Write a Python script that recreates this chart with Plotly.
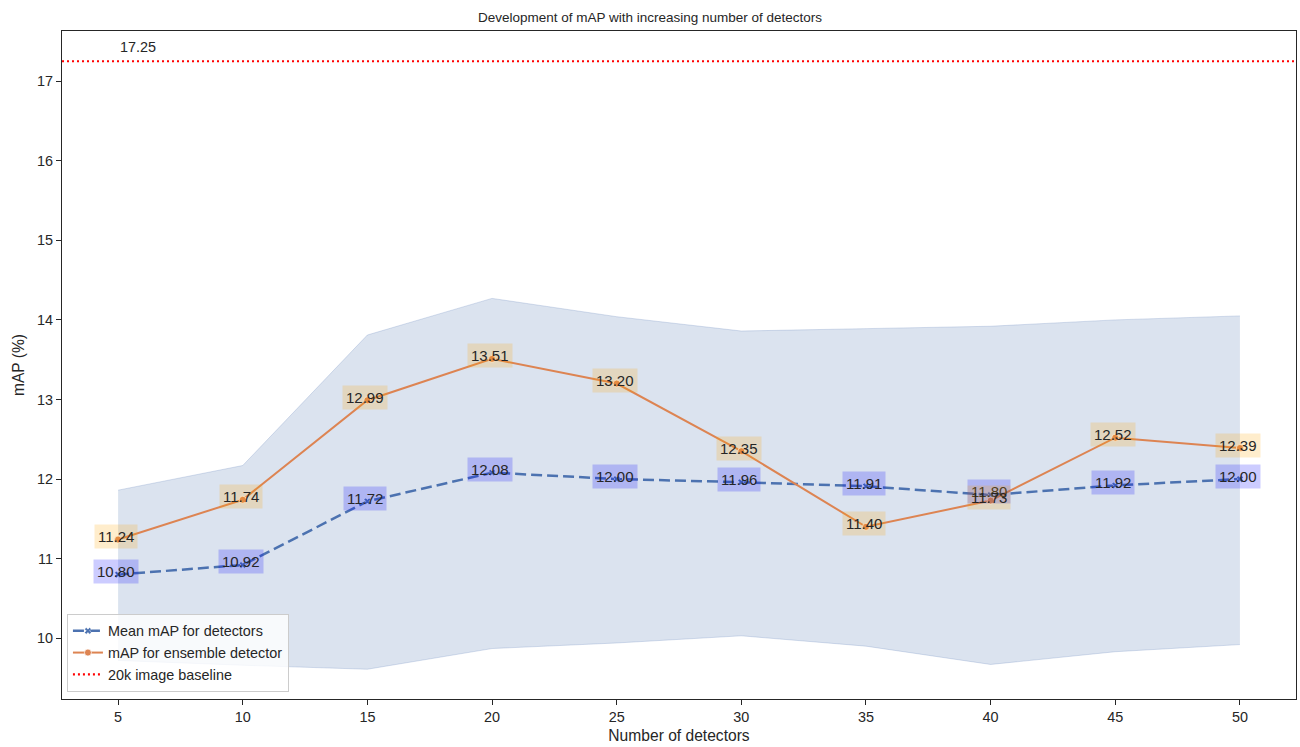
import plotly.graph_objects as go

# Data
n_detectors = [5, 10, 15, 20, 25, 30, 35, 40, 45, 50]
mean_map = [10.80, 10.92, 11.72, 12.08, 12.00, 11.96, 11.91, 11.80, 11.92, 12.00]
ensemble_map = [11.24, 11.74, 12.99, 13.51, 13.20, 12.35, 11.40, 11.73, 12.52, 12.39]
band_upper = [11.86, 12.17, 13.81, 14.27, 14.04, 13.86, 13.89, 13.92, 14.00, 14.05]
band_lower = [9.72, 9.66, 9.61, 9.87, 9.94, 10.03, 9.90, 9.67, 9.83, 9.92]
baseline_map = 17.25
x_ticks = [5, 10, 15, 20, 25, 30, 35, 40, 45, 50]
y_ticks = [10, 11, 12, 13, 14, 15, 16, 17]

BLUE = "#4c72b0"
ORANGE = "#dd8452"
INK = "#262626"
FONT = "Arial, Liberation Sans, sans-serif"

fig = go.Figure()

# spread of individual detectors
fig.add_trace(go.Scatter(
    x=n_detectors, y=band_lower, mode="lines",
    line=dict(color="rgba(76,114,176,0.22)", width=1),
    showlegend=False, hoverinfo="skip"))
fig.add_trace(go.Scatter(
    x=n_detectors, y=band_upper, mode="lines", fill="tonexty",
    fillcolor="rgba(76,114,176,0.2)",
    line=dict(color="rgba(76,114,176,0.22)", width=1),
    showlegend=False, hoverinfo="skip"))

fig.add_trace(go.Scatter(
    x=n_detectors, y=mean_map, mode="lines+markers",
    name="Mean mAP for detectors",
    line=dict(color=BLUE, width=2.5, dash="11px,5px"),
    marker=dict(symbol="x", size=6, color=BLUE, line=dict(color="white", width=0.5))))
fig.add_trace(go.Scatter(
    x=n_detectors, y=ensemble_map, mode="lines+markers",
    name="mAP for ensemble detector",
    line=dict(color=ORANGE, width=2),
    marker=dict(symbol="circle", size=7, color=ORANGE, line=dict(color="white", width=0.75))))

# baseline: horizontal rule plus a legend entry
fig.add_hline(y=baseline_map, line=dict(color="red", width=2.2, dash="2px,3px"))
fig.add_trace(go.Scatter(
    x=[None], y=[None], mode="lines", name="20k image baseline",
    line=dict(color="red", width=2.2, dash="2px,3px")))

fig.add_annotation(
    x=n_detectors[0], y=baseline_map, text=f"{baseline_map:.2f}",
    xanchor="left", yanchor="middle", yshift=14, showarrow=False,
    font=dict(family=FONT, size=14.4, color=INK))

# value labels
for xv, yv in zip(n_detectors, mean_map):
    fig.add_annotation(
        x=xv, y=yv, text=f"{yv:.2f}", showarrow=False, xshift=-2, yshift=3,
        bgcolor="rgba(0,0,255,0.2)", borderpad=3,
        font=dict(family=FONT, size=15, color=INK))
for xv, yv in zip(n_detectors, ensemble_map):
    fig.add_annotation(
        x=xv, y=yv, text=f"{yv:.2f}", showarrow=False, xshift=-2, yshift=3,
        bgcolor="rgba(255,165,0,0.2)", borderpad=3,
        font=dict(family=FONT, size=15, color=INK))

axis_common = dict(
    showgrid=False, zeroline=False, showline=True, mirror=True,
    linecolor=INK, linewidth=1.25, ticks="outside", ticklen=5,
    tickwidth=1.25, tickcolor=INK,
    tickfont=dict(family=FONT, size=14.4, color=INK),
)

fig.update_layout(
    width=1300, height=747,
    margin=dict(l=62, r=4, t=31, b=48),
    paper_bgcolor="white", plot_bgcolor="white",
    title=dict(text="Development of mAP with increasing number of detectors",
               x=0.5, xref="container", xanchor="center",
               y=0.977, yanchor="middle",
               font=dict(family=FONT, size=13.5, color=INK)),
    xaxis=dict(range=[2.75, 52.25], tickvals=x_ticks,
               title=dict(text="Number of detectors", standoff=5,
                          font=dict(family=FONT, size=15.6, color=INK)),
               **axis_common),
    yaxis=dict(range=[9.236, 17.63], tickvals=y_ticks,
               title=dict(text="mAP (%)", standoff=8,
                          font=dict(family=FONT, size=15.6, color=INK)),
               **axis_common),
    legend=dict(x=0.004, y=0.0105, xanchor="left", yanchor="bottom",
                traceorder="normal",
                bgcolor="rgba(255,255,255,0.8)", bordercolor="#cccccc",
                borderwidth=1, font=dict(family=FONT, size=14.4, color=INK),
                tracegroupgap=0, itemwidth=30),
    showlegend=True,
)

fig.write_html("out.html")
